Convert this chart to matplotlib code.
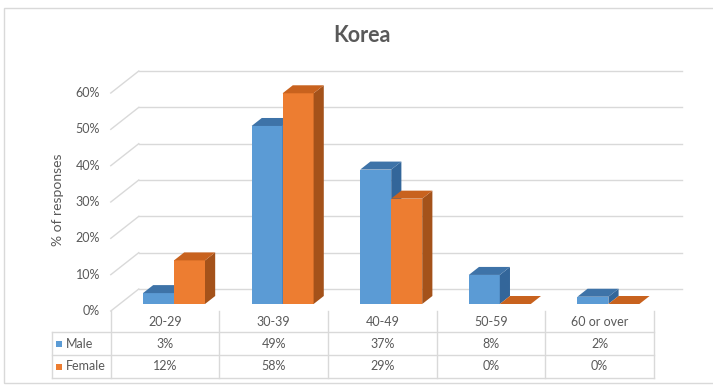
import numpy as np
import matplotlib.pyplot as plt
from matplotlib.patches import Rectangle

## Data ##############################################################
categories = ['20-29', '30-39', '40-49', '50-59', '60 or over']
series     = ['Male', 'Female']
male       = [3, 49, 37, 8, 2]     # % of responses
female     = [12, 58, 29, 0, 0]    # % of responses
yticks     = [0, 10, 20, 30, 40, 50, 60]

## Style #############################################################
plt.rcParams['font.family'] = ['Lato', 'DejaVu Sans']
txtc   = '#595959'
gridc  = '#d9d9d9'
front  = {'Male': '#5b9bd5', 'Female': '#ed7d31'}
top    = {'Male': '#3e73a8', 'Female': '#c8621e'}
side   = {'Male': '#33669a', 'Female': '#a4521a'}

# 3D geometry (x in category units, y in %)
PXX, PXY = 108.6, 3.633       # pixels per unit
BW    = 31/PXX                # bar width
DX    = 28/PXX                # full floor depth in x
DY    = 22/PXY                # full floor depth in y
TBAR  = 7/22                  # depth of bar front face
TBACK = 15/22                 # depth of bar back face

def proj(x, y, t):
    # map a point at depth t (0 front, 1 back wall) onto the axes
    return x + (t - TBAR)*DX, y + (t - TBAR)*DY

fig = plt.figure(figsize=(7.13, 3.85), dpi=100)
ax  = fig.add_axes([0, 0, 1, 1])
ax.set_xlim(-174/PXX, (713-174)/PXX)
ax.set_ylim(-81/PXY, 304/PXY)
ax.axis('off')

n  = len(categories)
x0, x1 = -0.5, n - 0.5
fs = 9

# back wall + left wall gridlines
for v in yticks:
    bx0, by = proj(x0, v, 1)
    bx1, _  = proj(x1, v, 1)
    ax.plot([bx0, bx1], [by, by], color=gridc, lw=1, zorder=1)
    fx, fy = proj(x0, v, 0)
    ax.plot([fx, bx0], [fy, by], color=gridc, lw=1, zorder=1)
    ax.text(fx - 0.1, fy, f'{v}%', ha='right', va='center', fontsize=fs, color=txtc)

# bars
def bar3d(xl, h, name):
    xr = xl + BW
    ddx = (TBACK - TBAR)*DX
    ddy = (TBACK - TBAR)*DY
    if h > 0:
        ax.fill([xl, xr, xr, xl], [0, 0, h, h], color=front[name], lw=0, zorder=3)
        ax.fill([xr, xr+ddx, xr+ddx, xr], [0, ddy, h+ddy, h], color=side[name], lw=0, zorder=3)
    ax.fill([xl, xr, xr+ddx, xl+ddx], [h, h, h+ddy, h+ddy], color=top[name], lw=0, zorder=3)

for i in range(n):
    bar3d(i - BW, male[i], 'Male')
    bar3d(i, female[i], 'Female')

# data table (front plane)
hh   = 21/PXY   # header height
rh   = 23/PXY   # row height
lx   = x0 - 59/PXX
yh   = 0
yr1  = -hh
yr2  = yr1 - rh
yr3  = yr2 - rh
def P(x, y):
    return proj(x, y, 0)

for k in range(n + 1):
    xa, ya = P(x0 + k, yh)
    xb, yb = P(x0 + k, yr3)
    ax.plot([xa, xb], [ya, yb], color=gridc, lw=1, zorder=1)
for yy in [yr1, yr2, yr3]:
    xa, ya = P(lx, yy)
    xb, _  = P(x1, yy)
    ax.plot([xa, xb], [ya, ya], color=gridc, lw=1, zorder=1)
xa, ya = P(lx, yr1)
_, yb  = P(lx, yr3)
ax.plot([xa, xa], [ya, yb], color=gridc, lw=1, zorder=1)

rows = [male, female]
for i, c in enumerate(categories):
    cx, cy = P(i, (yh + yr1)/2)
    ax.text(cx, cy, c, ha='center', va='center', fontsize=fs, color=txtc)
    for r, vals in enumerate(rows):
        cx, cy = P(i, yr1 - rh*(r + 0.5))
        ax.text(cx, cy, f'{vals[i]}%', ha='center', va='center', fontsize=fs, color=txtc)
for r, name in enumerate(series):
    cx, cy = P(lx + 7/PXX, yr1 - rh*(r + 0.5))
    ax.scatter([cx], [cy], marker='s', s=14, color=front[name], lw=0, zorder=3)
    ax.text(cx + 7/PXX, cy, name, ha='left', va='center', fontsize=fs, color=txtc)

# title, axis label, frame
fig.text(362/713, 1 - 35/385, 'Korea', ha='center', va='center', fontsize=15.5,
         fontweight='bold', color=txtc)
fig.text(58/713, 1 - 200/385, '% of responses', ha='center', va='center', fontsize=10,
         rotation=90, color=txtc)
fig.add_artist(Rectangle((4/713, 2/385), 1, 1 - 10/385, transform=fig.transFigure,
                         fill=False, edgecolor=gridc, lw=1))

fig.savefig('out.png', dpi=100)
